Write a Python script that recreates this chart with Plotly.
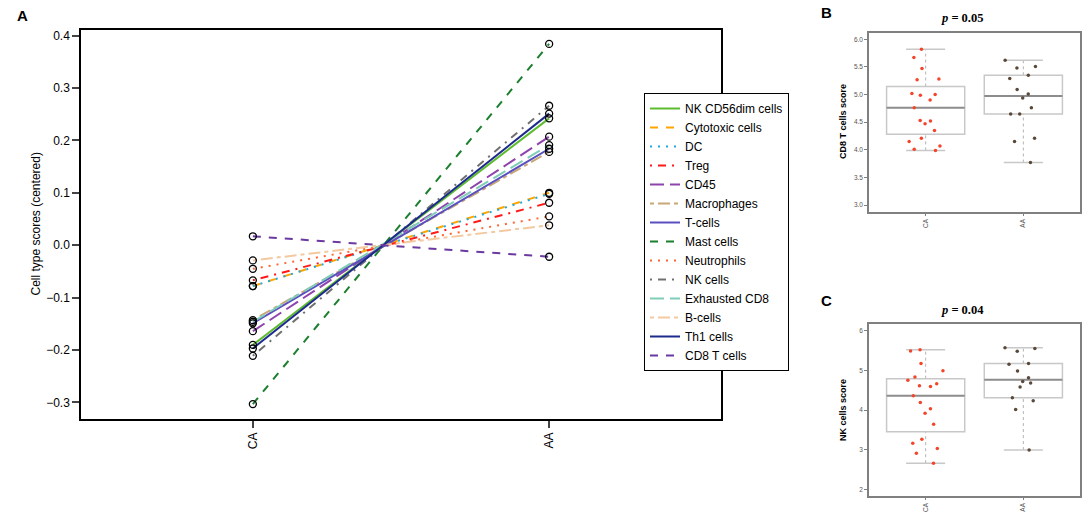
import numpy as np
import plotly.graph_objects as go

# ---- panel A: centered cell type scores per group
groups = ["CA", "AA"]
cell_types = [
    "NK CD56dim cells", "Cytotoxic cells", "DC", "Treg", "CD45", "Macrophages",
    "T-cells", "Mast cells", "Neutrophils", "NK cells", "Exhausted CD8",
    "B-cells", "Th1 cells", "CD8 T cells",
]
ca_scores = [-0.190, -0.078, -0.078, -0.067, -0.164, -0.143, -0.149,
             -0.303, -0.045, -0.211, -0.146, -0.029, -0.197, 0.017]
aa_scores = [0.242, 0.100, 0.098, 0.081, 0.207, 0.178, 0.184,
             0.384, 0.055, 0.266, 0.191, 0.038, 0.251, -0.022]
line_colors = ["#5DBB2E", "#FFA500", "#1FA9E1", "#FF1A1A", "#8E44AD", "#C8A878",
               "#5A4FBF", "#1B7F2E", "#FF6633", "#707070", "#80CDB8",
               "#F2C9A0", "#1C2A8C", "#6A3AA0"]
# R lty 1..6 with lwd 2
r_lty = ["solid", "8px,8px", "2px,6px", "2px,6px,8px,6px", "14px,6px", "4px,4px,12px,4px"]

# ---- panel B: CD8 T cells score
cd8_ca = [5.82, 5.67, 5.47, 5.28, 5.27, 5.02, 5.00, 4.99, 4.90, 4.76,
          4.53, 4.52, 4.47, 4.35, 4.21, 4.15, 4.07, 4.01, 3.99]
cd8_aa = [5.62, 5.51, 5.48, 5.35, 5.29, 5.09, 5.01, 4.94, 4.76, 4.65,
          4.65, 4.21, 4.15, 3.77]
# ---- panel C: NK cells score
nk_ca = [5.52, 5.49, 5.17, 4.99, 4.83, 4.75, 4.66, 4.61, 4.59, 4.36,
         4.19, 4.03, 3.92, 3.64, 3.26, 3.16, 3.03, 2.91, 2.66]
nk_aa = [5.57, 5.55, 5.48, 5.17, 5.15, 4.98, 4.81, 4.72, 4.68, 4.58,
         4.31, 4.23, 4.01, 2.99]

fig = go.Figure()

# lines of panel A
for i, name in enumerate(cell_types):
    fig.add_trace(go.Scatter(
        x=[1, 2], y=[ca_scores[i], aa_scores[i]], mode="lines", name=name,
        line=dict(color=line_colors[i], width=2, dash=r_lty[i % 6]),
        xaxis="x", yaxis="y",
    ))
# open circles at the ends
fig.add_trace(go.Scatter(
    x=[1] * len(ca_scores) + [2] * len(aa_scores), y=ca_scores + aa_scores,
    mode="markers", showlegend=False,
    marker=dict(symbol="circle-open", color="black", size=7, line=dict(width=1.3)),
    xaxis="x", yaxis="y",
))


def hinges(v):
    # same as R fivenum
    v = np.sort(np.asarray(v, dtype=float))
    n = len(v)
    n4 = np.floor((n + 3) / 2) / 2
    d = np.array([1, n4, (n + 1) / 2, n + 1 - n4, n]) - 1
    return 0.5 * (v[np.floor(d).astype(int)] + v[np.ceil(d).astype(int)])


def add_boxes(data, xa, ya):
    pt_colors = ["#F4452A", "#5A4838"]
    ref = dict(xref=xa, yref=ya, layer="below")
    for k, vals in enumerate(data):
        lo, q1, med, q3, hi = hinges(vals)
        c = k + 1
        # whiskers, dashed
        for a, b in [(q3, hi), (lo, q1)]:
            fig.add_shape(type="line", x0=c, x1=c, y0=a, y1=b,
                          line=dict(color="#B4B4B4", width=1, dash="3px,3px"), **ref)
        # staples
        for v in (lo, hi):
            fig.add_shape(type="line", x0=c - 0.2, x1=c + 0.2, y0=v, y1=v,
                          line=dict(color="#C8C8C8", width=1.5), **ref)
        # box
        fig.add_shape(type="rect", x0=c - 0.4, x1=c + 0.4, y0=q1, y1=q3,
                      line=dict(color="#C8C8C8", width=1.5), **ref)
        # median
        fig.add_shape(type="line", x0=c - 0.4, x1=c + 0.4, y0=med, y1=med,
                      line=dict(color="#8C8C8C", width=2), **ref)
        # jittered points on top
        fig.add_trace(go.Box(x=[c] * len(vals), y=vals, boxpoints="all", jitter=0.5,
                             pointpos=0, width=0.8, showlegend=False,
                             fillcolor="rgba(0,0,0,0)", line=dict(width=0, color="rgba(0,0,0,0)"),
                             marker=dict(color=pt_colors[k], size=3.5),
                             xaxis=xa, yaxis=ya))


add_boxes([cd8_ca, cd8_aa], "x2", "y2")
add_boxes([nk_ca, nk_aa], "x3", "y3")

W, H = 1084, 516


def px(x):
    return x / W


def py(y):
    return 1 - y / H


font = "Liberation Sans, Arial, sans-serif"
small_ax = dict(showline=True, mirror=True, linecolor="#808080", linewidth=1.5,
                ticks="outside", ticklen=3, tickcolor="#808080", showgrid=False,
                zeroline=False, tickfont=dict(size=6.5, color="#555555", family=font))

fig.update_layout(
    width=W, height=H, margin=dict(l=0, r=0, t=0, b=0),
    plot_bgcolor="white", paper_bgcolor="white",
    font=dict(family=font, color="black"),
    showlegend=True,
    legend=dict(x=px(644), y=py(93), xanchor="left", yanchor="top",
                bordercolor="black", borderwidth=1, bgcolor="white",
                font=dict(size=12, family=font), tracegroupgap=0, itemwidth=30),
    xaxis=dict(domain=[px(81), px(721)], range=[0.42, 2.58], tickvals=[1, 2], ticktext=groups,
               tickangle=-90, ticks="outside", ticklen=7, tickwidth=1.5, showline=True, mirror=True,
               linecolor="black", linewidth=1.5, showgrid=False, zeroline=False,
               tickfont=dict(size=12), anchor="y"),
    yaxis=dict(domain=[py(419), py(30)], range=[-0.3315, 0.4105],
               tickvals=[-0.3, -0.2, -0.1, 0.0, 0.1, 0.2, 0.3, 0.4], tickformat=".1f",
               ticks="outside", ticklen=7, tickwidth=1.5, showline=True, mirror=True,
               linecolor="black", linewidth=1.5, showgrid=False, zeroline=False,
               tickfont=dict(size=12), anchor="x"),
    xaxis2=dict(domain=[px(869), px(1080)], range=[0.42, 2.58], tickvals=[1, 2], ticktext=groups,
                tickangle=-90, anchor="y2", **small_ax),
    yaxis2=dict(domain=[py(211.7), py(32.7)], range=[2.88, 6.12],
                tickvals=[3.0, 3.5, 4.0, 4.5, 5.0, 5.5, 6.0], tickformat=".1f",
                anchor="x2", **small_ax),
    xaxis3=dict(domain=[px(869), px(1080)], range=[0.42, 2.58], tickvals=[1, 2], ticktext=groups,
                tickangle=-90, anchor="y3", **small_ax),
    yaxis3=dict(domain=[py(495.7), py(324.3)], range=[1.84, 6.16],
                tickvals=[2, 3, 4, 5, 6], anchor="x3", **small_ax),
)

ann = [
    dict(text="<b>A</b>", x=px(22), y=py(15), font=dict(size=15)),
    dict(text="<b>B</b>", x=px(826), y=py(12), font=dict(size=15)),
    dict(text="<b>C</b>", x=px(826), y=py(300), font=dict(size=15)),
    dict(text="Cell type scores (centered)", x=px(35), y=py(224.5), textangle=-90,
         font=dict(size=12)),
    dict(text="<b>CD8 T cells score</b>", x=px(843), y=py(122), textangle=-90,
         font=dict(size=9)),
    dict(text="<b>NK cells score</b>", x=px(843), y=py(410), textangle=-90,
         font=dict(size=9)),
    dict(text="<b><i>p</i> = 0.05</b>", x=px(962), y=py(18),
         font=dict(size=12.5, family="Liberation Serif, Times New Roman, serif")),
    dict(text="<b><i>p</i> = 0.04</b>", x=px(962), y=py(310),
         font=dict(size=12.5, family="Liberation Serif, Times New Roman, serif")),
]
for a in ann:
    fig.add_annotation(xref="paper", yref="paper", showarrow=False,
                       xanchor="center", yanchor="middle", **a)

# the page body has a default margin; drop it so the figure sits at the window corner
fig.write_html("out.html", config={"displayModeBar": False},
               post_script="document.body.style.margin='0';")
